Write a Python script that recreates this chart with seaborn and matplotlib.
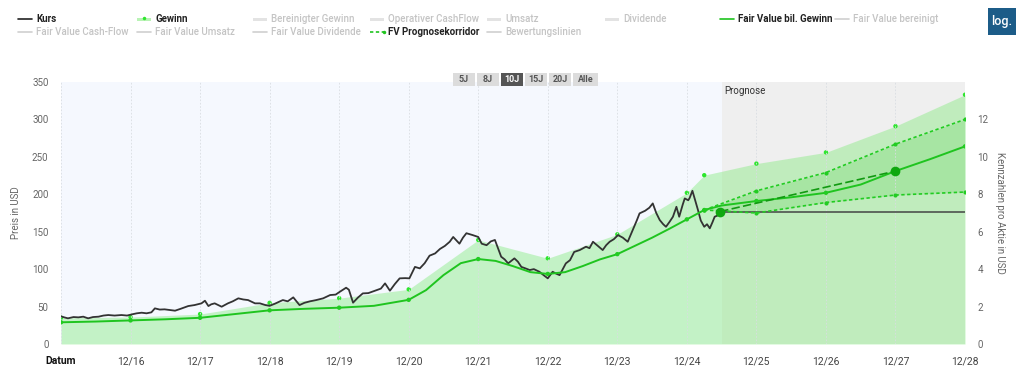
import matplotlib
matplotlib.use("Agg")
import matplotlib.pyplot as plt
from matplotlib.lines import Line2D
from matplotlib.patches import Rectangle
import numpy as np
import pandas as pd
import seaborn as sns

# ---- data ----
# x values are decimal years, 12/15 tick = 2015.96
kurs_year = [2015.96, 2016.01, 2016.06, 2016.14, 2016.21, 2016.28, 2016.35, 2016.42, 2016.50, 2016.57,
             2016.64, 2016.73, 2016.83, 2016.91, 2016.98, 2017.05, 2017.12, 2017.19, 2017.26, 2017.31,
             2017.38, 2017.45, 2017.52, 2017.60, 2017.68, 2017.79, 2017.88, 2017.98, 2018.03, 2018.08,
             2018.12, 2018.17, 2018.27, 2018.36, 2018.43, 2018.51, 2018.58, 2018.65, 2018.75, 2018.82,
             2018.90, 2018.96, 2019.04, 2019.15, 2019.22, 2019.30, 2019.39, 2019.46, 2019.54, 2019.63,
             2019.73, 2019.83, 2019.91, 2019.97, 2020.06, 2020.10, 2020.16, 2020.23, 2020.30, 2020.38,
             2020.50, 2020.56, 2020.62, 2020.69, 2020.76, 2020.83, 2020.91, 2020.97, 2021.05, 2021.12,
             2021.19, 2021.26, 2021.34, 2021.41, 2021.48, 2021.55, 2021.60, 2021.69, 2021.74, 2021.79,
             2021.88, 2021.96, 2022.01, 2022.08, 2022.14, 2022.20, 2022.29, 2022.34, 2022.39, 2022.48,
             2022.53, 2022.58, 2022.64, 2022.70, 2022.76, 2022.84, 2022.90, 2022.96, 2023.03, 2023.08,
             2023.13, 2023.22, 2023.28, 2023.34, 2023.42, 2023.51, 2023.56, 2023.61, 2023.68, 2023.75,
             2023.80, 2023.85, 2023.91, 2023.97, 2024.04, 2024.11, 2024.18, 2024.24, 2024.28, 2024.36,
             2024.42, 2024.47, 2024.52, 2024.57, 2024.62, 2024.66, 2024.71, 2024.76, 2024.81, 2024.85,
             2024.90, 2024.93, 2024.98, 2025.00, 2025.04, 2025.08, 2025.12, 2025.16, 2025.21, 2025.25,
             2025.29, 2025.33, 2025.36, 2025.41, 2025.45]
kurs_usd = [37, 35.5, 34.3, 36, 35.6, 36.5, 34.3, 36, 36.5, 38,
            38.7, 38, 38.7, 38, 39.6, 41, 41.8, 41, 42.3, 47.6,
            46, 46.3, 45.5, 44.5, 47, 50.7, 52, 54.3, 57.8, 50.7,
            53, 54.3, 49.8, 54.3, 57, 61, 59.5, 58.7, 54.3, 54.3,
            52, 51, 54, 58.7, 57, 62.3, 52, 55, 57, 58.7,
            61, 65.4, 66, 69.8, 75.2, 72.5, 55.2, 62, 67.6, 68,
            72.1, 74, 81, 71.2, 80, 87.7, 88, 87.7, 103, 101,
            108, 118, 121, 127, 131, 136.6, 143, 134, 142, 148,
            145.5, 143, 134, 132, 137, 139, 116.6, 113, 107.7, 114.4,
            110, 103, 101, 98.8, 100, 96.5, 92, 87.7, 96.5, 94,
            92, 107.7, 112, 123, 125.5, 130, 128, 136.6, 131, 125.5,
            132, 136.6, 140, 145.5, 142, 136.6, 152, 165, 174.5, 178,
            182, 187.8, 175, 165.6, 160, 156.6, 163, 170, 183.3, 170,
            186, 194.5, 192, 195, 204.7, 192, 179, 165, 156.6, 160,
            154.5, 163, 170, 172, 177]

# last price carried into the forecast window
kurs_flat_year = [2025.44, 2028.96]
kurs_flat_usd = [177, 177]

# Gewinn (EPS, right axis)
gewinn_year = [2015.96, 2016.96, 2017.96, 2018.96, 2019.96, 2020.96, 2021.96, 2022.96,
               2023.96, 2024.96, 2025.21, 2025.96, 2026.96, 2027.96, 2028.96]
gewinn_eps = [1.40, 1.44, 1.60, 2.20, 2.45, 2.92, 5.56, 4.58,
              5.86, 8.08, 9.02, 9.64, 10.24, 11.64, 13.32]

# Fair Value bil. Gewinn (USD)
fv_year = [2015.96, 2016.46, 2016.96, 2017.46, 2017.96, 2018.46, 2018.96, 2019.46, 2019.96,
           2020.46, 2020.96, 2021.21, 2021.46, 2021.71, 2021.96, 2022.21, 2022.46, 2022.71,
           2022.96, 2023.21, 2023.46, 2023.71, 2023.96, 2024.21, 2024.46, 2024.71, 2024.96,
           2025.21, 2025.46, 2025.96, 2026.46, 2026.96, 2027.46, 2027.96, 2028.46, 2028.96]
fv_usd = [29, 30, 31.5, 33, 35, 40, 45, 47, 48.5,
          51, 59, 72, 92, 108, 113.5, 111, 104, 96,
          93.6, 96, 104, 113, 120, 131, 142, 154, 166.5,
          179, 185, 191, 196, 202, 213, 231, 247, 264]
fv_dot_year = [2015.96, 2016.96, 2017.96, 2018.96, 2019.96, 2020.96, 2021.96, 2022.96,
               2023.96, 2024.96, 2025.21, 2025.96, 2026.96, 2027.96, 2028.96]
fv_dot_usd = [29, 31.5, 35, 45, 48.5, 59, 113.5, 93.6, 120, 166.5, 179, 191, 202, 231, 264]

# FV Prognosekorridor (USD)
korr_year = [2025.21, 2025.96, 2026.96, 2027.96, 2028.96]
korr_upper = [179, 204.6, 229, 267, 300]
korr_lower = [179, 175, 189, 199, 203]

# dashed growth line between the two big markers
trend_year = [2025.44, 2027.96]
trend_usd = [177, 231]

x_ticks = [2015.96 + i for i in range(14)]
x_labels = ["Datum", "12/16", "12/17", "12/18", "12/19", "12/20", "12/21",
            "12/22", "12/23", "12/24", "12/25", "12/26", "12/27", "12/28"]
prognose_start = 2025.46

legend_row1 = ["Kurs", "Gewinn", "Bereinigter Gewinn", "Operativer CashFlow",
               "Umsatz", "Dividende", "Fair Value bil. Gewinn", "Fair Value bereinigt"]
legend_row2 = ["Fair Value Cash-Flow", "Fair Value Umsatz", "Fair Value Dividende",
               "FV Prognosekorridor", "Bewertungslinien"]
range_buttons = ["5J", "8J", "10J", "15J", "20J", "Alle"]

# ---- styling ----
sns.set_style("white")
plt.rcParams['font.family'] = ['Roboto', 'DejaVu Sans']

GREEN = "#1fc41f"
DOT = "#2ee62e"
W, H = 1024, 371

fig = plt.figure(figsize=(10.24, 3.71), dpi=100)
ax2 = fig.add_axes([61 / W, 1 - 344 / H, (965 - 61) / W, (344 - 82) / H])
ax = ax2.twinx()
ax.yaxis.tick_left()
ax.yaxis.set_label_position("left")
ax2.yaxis.tick_right()
ax2.yaxis.set_label_position("right")
ax.set_zorder(ax2.get_zorder() + 1)
ax.patch.set_visible(False)

# background: light blue history, grey forecast
ax2.set_facecolor("#f5f8fe")
ax2.axvspan(prognose_start, x_ticks[-1], color="#efefef", lw=0, zorder=0)

# Gewinn area on EPS axis
ax2.fill_between(gewinn_year, gewinn_eps, 0, color="#7fea7a", alpha=0.42, lw=0, zorder=1)
sns.scatterplot(x=gewinn_year, y=gewinn_eps, ax=ax2, color=DOT, s=10, linewidth=0,
                edgecolor="none", zorder=3)

# corridor band
ax.fill_between(korr_year, korr_upper, korr_lower, color="#4fd04a", alpha=0.22, lw=0, zorder=1)

# vertical grid
for xt in x_ticks:
    ax.axvline(xt, color="#d9dde2", lw=0.6, ls=(0, (2, 2)), zorder=1.5)

# Kurs
kurs = pd.DataFrame({"x": kurs_year, "y": kurs_usd})
sns.lineplot(data=kurs, x="x", y="y", ax=ax, color="#333333", lw=1.3, zorder=4)
ax.plot(kurs_flat_year, kurs_flat_usd, color="#444444", lw=1.1, zorder=4)

# Fair value line
sns.lineplot(x=fv_year, y=fv_usd, ax=ax, color=GREEN, lw=1.4, zorder=5)
sns.scatterplot(x=fv_dot_year, y=fv_dot_usd, ax=ax, color="#22cc22", s=10, linewidth=0,
                edgecolor="none", zorder=5)

# corridor lines
for vals in (korr_upper, korr_lower):
    ax.plot(korr_year, vals, color="#22cc22", lw=1.2, ls=(0, (2, 1.5)), marker="o", ms=3,
            mec="none", zorder=5)

# dashed growth line with big markers
ax.plot(trend_year, trend_usd, color="#119a11", lw=1.2, ls=(0, (5, 2)), zorder=6)
ax.plot(trend_year, trend_usd, ls="none", marker="o", ms=7, color="#0fa80f", mec="none", zorder=7)

ax.text(prognose_start + 0.04, 345, "Prognose", fontsize=7, color="#333", va="top", ha="left", zorder=8)

# axes ranges / ticks
ax.set_xlim(x_ticks[0], x_ticks[-1])
ax.set_ylim(0, 350)
ax2.set_ylim(0, 14)
ax.set_yticks(range(0, 351, 50))
ax2.set_yticks(range(0, 13, 2))
ax2.set_xticks(x_ticks)
ax2.set_xticklabels(x_labels)
for lbl in ax2.get_xticklabels():
    lbl.set_color("#444")
ax2.get_xticklabels()[0].set_fontweight("bold")
ax2.get_xticklabels()[0].set_color("#111")
ax2.tick_params(axis="x", length=4, color="#d0d0d0", labelsize=7.5, pad=5)
ax.tick_params(axis="y", length=0, labelsize=7, labelcolor="#666", pad=9)
ax2.tick_params(axis="y", length=0, labelsize=7, labelcolor="#666", pad=9)
ax.set_xlabel("")
ax.set_ylabel("Preis in USD", fontsize=7, color="#666", labelpad=8)
ax2.set_ylabel("Kennzahlen pro Aktie in USD", fontsize=7, color="#666", rotation=270, labelpad=12)
for a in (ax, ax2):
    for s in a.spines.values():
        s.set_visible(False)

# ---- header legend (drawn in figure pixels) ----
def fx(px):
    return px / W

def fy(py):
    return 1 - py / H

col_x = [18, 137, 253, 370, 487, 605, 720, 835]
active = {"Kurs": "#222222", "Gewinn": GREEN, "Fair Value bil. Gewinn": GREEN,
          "FV Prognosekorridor": GREEN}

def legend_item(px, py, label):
    on = label in active
    col = active.get(label, "#cccccc")
    if label in ("Gewinn",):
        fig.patches.append(Rectangle((fx(px), fy(py + 2)), fx(14), 3 / H, transform=fig.transFigure,
                                     color="#b9f3b5", lw=0))
        fig.lines.append(Line2D([fx(px + 7)], [fy(py - 1)], transform=fig.transFigure,
                                marker="o", ms=2.5, color=DOT, mec="none"))
    elif label == "FV Prognosekorridor":
        fig.lines.append(Line2D([fx(px), fx(px + 14)], [fy(py), fy(py)], transform=fig.transFigure,
                                color=col, lw=1.2, ls=(0, (2, 1.5)), marker="o", ms=2.5,
                                markevery=[1], mec="none"))
    elif label in ("Bereinigter Gewinn", "Operativer CashFlow", "Umsatz", "Dividende"):
        fig.patches.append(Rectangle((fx(px), fy(py + 2)), fx(14), 3 / H, transform=fig.transFigure,
                                     color="#e3e3e3", lw=0))
    else:
        fig.lines.append(Line2D([fx(px), fx(px + 14)], [fy(py), fy(py)], transform=fig.transFigure,
                                color=col if on else "#d0d0d0", lw=1.2))
    fig.text(fx(px + 18), fy(py), label, fontsize=7, va="center", ha="left",
             color="#222" if on else "#c4c4c4", fontweight="bold" if on else "medium")

for i, lab in enumerate(legend_row1):
    legend_item(col_x[i], 19, lab)
for i, lab in enumerate(legend_row2):
    legend_item(col_x[i], 32, lab)

# log. button
fig.patches.append(Rectangle((fx(988), fy(35)), fx(28), 27 / H, transform=fig.transFigure,
                             color="#1c5c88", lw=0))
fig.text(fx(1002), fy(21.5), "log.", fontsize=9, color="white", ha="center", va="center",
         fontweight="medium")

# range buttons
bx = [453, 477, 501, 525, 549, 573]
bw = [22, 22, 22, 22, 22, 25]
for x0, w, lab in zip(bx, bw, range_buttons):
    sel = lab == "10J"
    fig.patches.append(Rectangle((fx(x0), fy(86)), fx(w), 13 / H, transform=fig.transFigure,
                                 color="#555555" if sel else "#dcdcdc", lw=0))
    fig.text(fx(x0 + w / 2), fy(79.5), lab, fontsize=6.5, ha="center", va="center",
             color="white" if sel else "#555", fontweight="bold")

fig.savefig("out.png", dpi=100)
